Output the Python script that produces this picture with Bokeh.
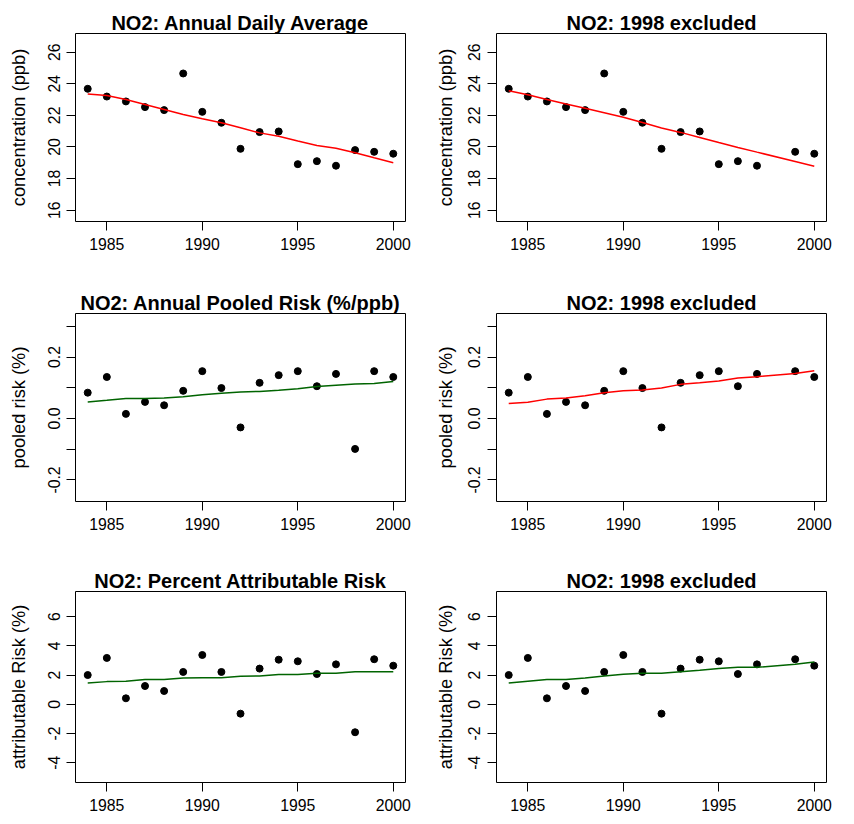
from bokeh.plotting import figure
from bokeh.layouts import column, row
from bokeh.models import Range1d, FixedTicker, Title
from bokeh.embed import file_html
from bokeh.resources import INLINE

# ---------------- data ----------------
years = [1984, 1985, 1986, 1987, 1988, 1989, 1990, 1991, 1992,
         1993, 1994, 1995, 1996, 1997, 1998, 1999, 2000]
years_ex = [1984, 1985, 1986, 1987, 1988, 1989, 1990, 1991, 1992,
            1993, 1994, 1995, 1996, 1997, 1999, 2000]

conc = [23.68, 23.19, 22.88, 22.52, 22.33, 24.65, 22.22, 21.53, 19.88,
        20.94, 20.98, 18.91, 19.10, 18.81, 19.80, 19.69, 19.57]
conc_fit = [23.35, 23.25, 23.00, 22.69, 22.37, 22.05, 21.78, 21.53, 21.21,
            20.89, 20.68, 20.37, 20.09, 19.92, 19.63, 19.31, 19.00]
conc_fit_ex = [23.55, 23.30, 23.00, 22.72, 22.45, 22.17, 21.88, 21.55, 21.20,
               20.92, 20.60, 20.28, 19.97, 19.67, 19.08, 18.78]

pooled = [0.084, 0.135, 0.015, 0.054, 0.043, 0.090, 0.154, 0.099, -0.029,
          0.116, 0.141, 0.154, 0.105, 0.145, -0.099, 0.154, 0.135]
pooled_fit = [0.054, 0.059, 0.065, 0.065, 0.067, 0.071, 0.077, 0.082, 0.086,
              0.088, 0.092, 0.097, 0.104, 0.108, 0.112, 0.114, 0.120]
pooled_fit_ex = [0.049, 0.053, 0.063, 0.067, 0.074, 0.084, 0.090, 0.093, 0.099,
                 0.111, 0.116, 0.122, 0.132, 0.136, 0.146, 0.155]

attrib = [2.00, 3.17, 0.41, 1.25, 0.91, 2.21, 3.37, 2.21, -0.64,
          2.44, 3.05, 2.94, 2.07, 2.73, -1.91, 3.08, 2.64]
attrib_fit = [1.46, 1.55, 1.57, 1.69, 1.69, 1.80, 1.82, 1.82, 1.91,
              1.94, 2.03, 2.03, 2.12, 2.12, 2.23, 2.23, 2.23]
attrib_fit_ex = [1.46, 1.58, 1.69, 1.69, 1.80, 1.93, 2.05, 2.12, 2.12,
                 2.22, 2.32, 2.44, 2.53, 2.53, 2.73, 2.89]

x_ticks = [1985, 1990, 1995, 2000]
conc_ticks = [16, 18, 20, 22, 24, 26]
conc_labels = {16: "16", 18: "18", 20: "20", 22: "22", 24: "24", 26: "26"}
pooled_ticks = [-0.2, -0.1, 0.0, 0.1, 0.2, 0.3]
pooled_labels = {-0.2: "-0.2", -0.1: "", 0.0: "0.0", 0.1: "", 0.2: "0.2", 0.3: ""}
attrib_ticks = [-4, -2, 0, 2, 4, 6]
attrib_labels = {-4: "-4", -2: "-2", 0: "0", 2: "2", 4: "4", 6: "6"}

titles_left = ["NO2: Annual Daily Average", "NO2: Annual Pooled Risk (%/ppb)",
               "NO2: Percent Attributable Risk"]
title_right = "NO2: 1998 excluded"
ylabels = ["concentration (ppb)", "pooled risk (%)", "attributable Risk (%)"]

# ---------------- layout ----------------
FONT = "Liberation Sans"
FRAME_W = 330
col_w = [419, 419]
col_bl = [75, 77]
col_tick_standoff = [6, 7]
col_label_standoff = [17, 10]
row_h = [275, 275, 266]
row_bt = [33, 38, 41]
row_bb = [54, 49, 34]
row_spacer_standoff = [2, 3, 1]   # gap between title and frame
y_ranges = [(15.28, 27.18), (-0.270, 0.3415), (-5.345, 7.71)]
x_range = (1983.36, 2000.64)


def make_fig(c, r, title, ylabel, xs, ys, fx, fy, lcolor, ticks, labels):
    p = figure(width=col_w[c], height=row_h[r], title=None,
               x_range=Range1d(*x_range), y_range=Range1d(*y_ranges[r]),
               output_backend="svg", toolbar_location=None,
               min_border_left=col_bl[c],
               min_border_right=col_w[c] - col_bl[c] - FRAME_W,
               min_border_top=row_bt[r], min_border_bottom=row_bb[r])
    # invisible spacer between the frame and the title
    p.add_layout(Title(text=".", text_font=FONT, text_font_size="6px",
                       text_alpha=0, standoff=row_spacer_standoff[r]), "above")
    p.add_layout(Title(text=title, text_font=FONT, text_font_style="bold",
                       text_font_size="20px", text_color="black",
                       align="center", vertical_align="bottom", standoff=0),
                 "above")
    p.xgrid.visible = False
    p.ygrid.visible = False
    p.outline_line_color = "black"
    p.outline_line_width = 1
    p.outline_line_alpha = 1
    p.background_fill_color = "white"
    p.border_fill_color = "white"

    for ax in (p.xaxis[0], p.yaxis[0]):
        ax.axis_line_color = None
        ax.major_tick_out = 9
        ax.major_tick_in = 0
        ax.major_tick_line_color = "black"
        ax.minor_tick_line_color = None
        ax.major_label_text_font = FONT
        ax.major_label_text_font_size = "15.8px"
        ax.major_label_text_color = "black"
    p.xaxis.ticker = FixedTicker(ticks=x_ticks)
    p.xaxis.major_label_standoff = 7
    p.yaxis.ticker = FixedTicker(ticks=ticks)
    p.yaxis.major_label_overrides = labels
    p.yaxis.major_label_orientation = "vertical"
    p.yaxis.major_label_standoff = col_tick_standoff[c]
    p.yaxis.axis_label = ylabel
    p.yaxis.axis_label_text_font = FONT
    p.yaxis.axis_label_text_font_size = "18.3px"
    p.yaxis.axis_label_text_font_style = "normal"
    p.yaxis.axis_label_text_color = "black"
    p.yaxis.axis_label_standoff = col_label_standoff[c]

    p.scatter(xs, ys, size=7, color="black")
    p.line(fx, fy, line_color=lcolor, line_width=1.5)
    return p


p1 = make_fig(0, 0, titles_left[0], ylabels[0], years, conc, years, conc_fit,
              "#FF0000", conc_ticks, conc_labels)
p2 = make_fig(1, 0, title_right, ylabels[0], years_ex,
              [v for y, v in zip(years, conc) if y != 1998],
              years_ex, conc_fit_ex, "#FF0000", conc_ticks, conc_labels)
p3 = make_fig(0, 1, titles_left[1], ylabels[1], years, pooled, years, pooled_fit,
              "#006400", pooled_ticks, pooled_labels)
p4 = make_fig(1, 1, title_right, ylabels[1], years_ex,
              [v for y, v in zip(years, pooled) if y != 1998],
              years_ex, pooled_fit_ex, "#FF0000", pooled_ticks, pooled_labels)
p5 = make_fig(0, 2, titles_left[2], ylabels[2], years, attrib, years, attrib_fit,
              "#006400", attrib_ticks, attrib_labels)
p6 = make_fig(1, 2, title_right, ylabels[2], years_ex,
              [v for y, v in zip(years, attrib) if y != 1998],
              years_ex, attrib_fit_ex, "#006400", attrib_ticks, attrib_labels)

layout = column(row(p1, p2), row(p3, p4), row(p5, p6))
open("out.html", "w").write(file_html(layout, INLINE))
